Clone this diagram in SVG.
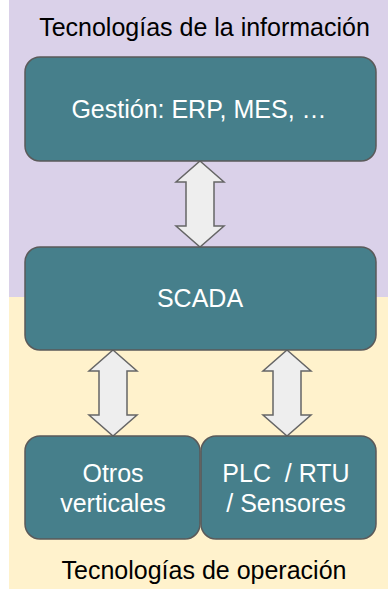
<svg xmlns="http://www.w3.org/2000/svg" width="388" height="589" viewBox="0 0 388 589">
  <style>
    .box { fill: #467f8b; stroke: #5a5a5a; stroke-width: 1.5; }
    .lbl { font-family: "Liberation Sans", Arial, sans-serif; font-size: 25px; fill: #ffffff; text-anchor: middle; white-space: pre; }
    .zone { font-family: "Liberation Sans", Arial, sans-serif; font-size: 25px; fill: #000000; text-anchor: middle; }
    .arrow { fill: #eeeeee; stroke: #666666; stroke-width: 1.5; stroke-linejoin: miter; }
  </style>
  <defs>
    <!-- double-headed block arrow, centred on x=0, spanning y 0..86 -->
    <path id="dblArrow" d="M0,0 L24,21 L14,21 L14,65 L24,65 L0,86 L-24,65 L-14,65 L-14,21 L-24,21 Z"/>
  </defs>

  <!-- zones -->
  <g id="zone-it">
    <rect x="9" y="0" width="379" height="297" fill="#dad1e9"/>
    <text class="zone" x="204.5" y="36">Tecnologías de la información</text>
  </g>
  <g id="zone-ot">
    <rect x="9" y="297" width="379" height="292" fill="#fff2cc"/>
    <text class="zone" x="204" y="579">Tecnologías de operación</text>
  </g>

  <!-- connectors -->
  <g id="connectors">
    <use href="#dblArrow" class="arrow" x="200" y="161"/>
    <use href="#dblArrow" class="arrow" x="113" y="350"/>
    <use href="#dblArrow" class="arrow" x="287" y="350"/>
  </g>

  <!-- nodes -->
  <g id="gestion">
    <rect class="box" x="25" y="57" width="351" height="104" rx="15"/>
    <text class="lbl" x="199" y="118">Gestión: ERP, MES, …</text>
  </g>
  <g id="scada">
    <rect class="box" x="25" y="247" width="351" height="103" rx="15"/>
    <text class="lbl" x="200" y="307">SCADA</text>
  </g>
  <g id="otros">
    <rect class="box" x="25" y="436" width="175" height="103" rx="15"/>
    <text class="lbl" x="113" y="482">Otros</text>
    <text class="lbl" x="113" y="512">verticales</text>
  </g>
  <g id="plc">
    <rect class="box" x="201" y="436" width="175" height="103" rx="15"/>
    <text class="lbl" x="286" y="482">PLC  / RTU</text>
    <text class="lbl" x="286" y="512">/ Sensores</text>
  </g>
</svg>
